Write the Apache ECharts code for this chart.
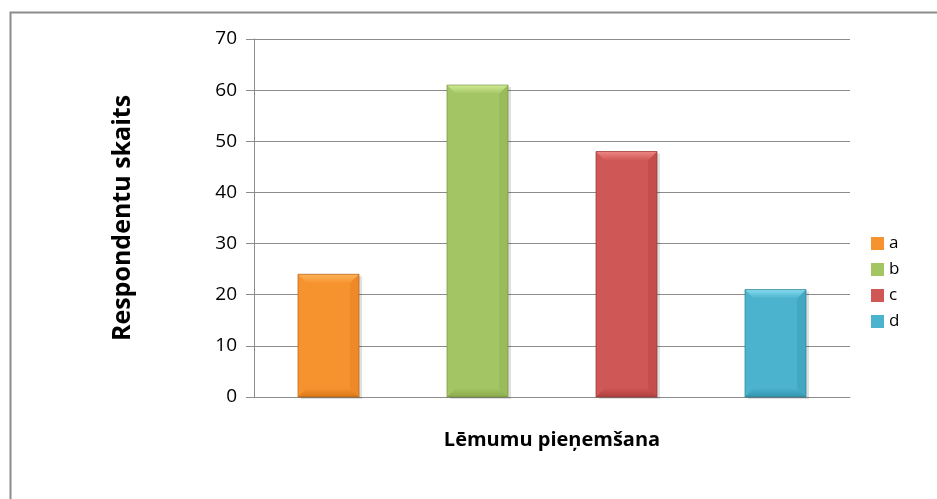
<!DOCTYPE html>
<html>
<head>
<meta charset="utf-8">
<script src="https://cdn.jsdelivr.net/npm/echarts@6/dist/echarts.min.js"></script>
<style>
  html, body { margin: 0; padding: 0; background: #fff; }
  #chart { width: 937px; height: 499px; }
</style>
</head>
<body>
<div id="chart"></div>
<script>
// Survey answers: number of respondents per option
const categories = ['a', 'b', 'c', 'd'];
const seriesNames = ['a', 'b', 'c', 'd'];
const values = [24, 61, 48, 21];
const yTicks = [0, 10, 20, 30, 40, 50, 60, 70];

// face, light bevel, dark bevel, edge
const palettes = [
  ['#F7932F', '#FDB45A', '#D97818', '#A85A10'],
  ['#A4C564', '#CFEA93', '#8AAA4C', '#6E8A38'],
  ['#CF5755', '#EE8785', '#B0403F', '#8C2E2D'],
  ['#4BB3CD', '#86DCEE', '#3495AE', '#25758A']
];

const chart = echarts.init(document.getElementById('chart'), null, { renderer: 'canvas' });

function bevelBar(idx) {
  const pal = palettes[idx];
  return function (params, api) {
    const cat = api.value(0);
    const val = api.value(1);
    const top = api.coord([cat, val]);
    const base = api.coord([cat, 0]);
    const bandW = api.size([1, 0])[0];
    const w = bandW * 0.41;
    const x0 = top[0] - w / 2, x1 = top[0] + w / 2;
    const y0 = top[1], y1 = base[1];
    const b = 9;
    return {
      type: 'group',
      children: [
        { type: 'rect', shape: { x: x0 + 3, y: y0 + 2, width: w, height: y1 - y0 },
          style: { fill: 'rgba(0,0,0,0.12)' } },
        { type: 'rect', shape: { x: x0, y: y0, width: w, height: y1 - y0 },
          style: { fill: pal[0] } },
        { type: 'polygon', shape: { points: [[x0, y0], [x1, y0], [x1 - b, y0 + b], [x0 + b, y0 + b]] },
          style: { fill: new echarts.graphic.LinearGradient(0, 0, 0, 1, [
            { offset: 0, color: pal[1] }, { offset: 1, color: pal[0] }]) } },
        { type: 'polygon', shape: { points: [[x0, y1], [x1, y1], [x1 - b, y1 - b], [x0 + b, y1 - b]] },
          style: { fill: new echarts.graphic.LinearGradient(0, 0, 0, 1, [
            { offset: 0, color: pal[0] }, { offset: 1, color: pal[2] }]) } },
        { type: 'polygon', shape: { points: [[x1, y0], [x1, y1], [x1 - b, y1 - b], [x1 - b, y0 + b]] },
          style: { fill: pal[2], opacity: 0.35 } },
        { type: 'rect', shape: { x: x0, y: y0, width: w, height: y1 - y0 },
          style: { fill: 'none', stroke: pal[3], lineWidth: 1, opacity: 0.6 } }
      ]
    };
  };
}

const series = seriesNames.map((name, i) => ({
  name: name,
  type: 'custom',
  renderItem: bevelBar(i),
  itemStyle: { color: palettes[i][0] },
  encode: { x: 0, y: 1 },
  data: [[i, values[i]]]
}));

chart.setOption({
  animation: false,
  graphic: [
    { type: 'rect', left: 8, top: 10, shape: { width: 1000, height: 600 },
      style: { fill: 'none', stroke: '#8c8c8c', lineWidth: 2 }, silent: true }
  ],
  grid: { left: 254, right: 87, top: 39, bottom: 102, containLabel: false },
  legend: {
    orient: 'vertical',
    left: 866,
    top: 230,
    itemWidth: 13,
    itemHeight: 13,
    itemGap: 9,
    icon: 'rect',
    textStyle: { fontFamily: 'Open Sans', fontSize: 17, color: '#000' },
    data: seriesNames
  },
  xAxis: {
    type: 'category',
    data: categories,
    name: 'Lēmumu pieņemšana',
    nameLocation: 'middle',
    nameGap: 33,
    nameTextStyle: { fontFamily: 'Open Sans', fontWeight: 'bold', fontSize: 20, color: '#000' },
    axisLine: { show: true, lineStyle: { color: '#8c8c8c', width: 1 } },
    axisTick: { show: false },
    axisLabel: { show: false }
  },
  yAxis: {
    type: 'value',
    min: yTicks[0],
    max: yTicks[yTicks.length - 1],
    interval: 10,
    name: 'Respondentu skaits',
    nameLocation: 'middle',
    nameGap: 119,
    nameTextStyle: { fontFamily: 'Open Sans', fontWeight: 'bold', fontSize: 25, color: '#000' },
    axisLine: { show: true, lineStyle: { color: '#8c8c8c', width: 1 } },
    axisTick: { show: true, inside: false, length: 8, lineStyle: { color: '#8c8c8c' } },
    axisLabel: { fontFamily: 'Open Sans', fontSize: 19, color: '#000', margin: 17 },
    splitLine: { show: true, lineStyle: { color: '#8c8c8c', width: 1 } }
  },
  series: series
});
</script>
</body>
</html>
